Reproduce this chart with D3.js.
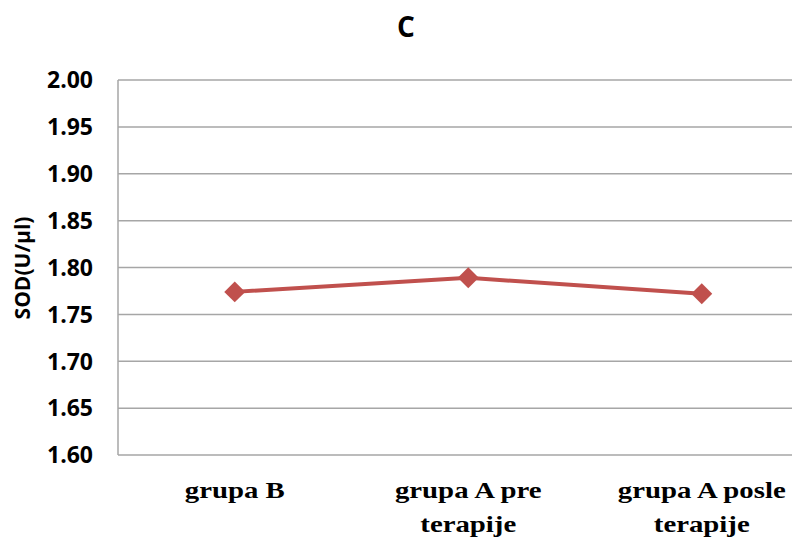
<!DOCTYPE html>
<html>
<head>
<meta charset="utf-8">
<script src="https://cdn.jsdelivr.net/npm/d3@7"></script>
<style>
  body { margin: 0; background: #fff; }
  svg { display: block; }
</style>
</head>
<body>
<div id="chart"></div>
<script>
// data
const categories = [["grupa B"], ["grupa A pre", "terapije"], ["grupa A posle", "terapije"]];
const sodValues = [1.774, 1.789, 1.772];
const yTicks = [1.60, 1.65, 1.70, 1.75, 1.80, 1.85, 1.90, 1.95, 2.00];

const width = 798;
const height = 542;
const margin = {top: 80, right: 6, bottom: 87, left: 118};
const gridRight = 792;

const svg = d3.select("#chart").append("svg")
    .attr("width", width)
    .attr("height", height);

const x = d3.scaleBand()
    .domain(categories.map((d, i) => i))
    .range([margin.left, margin.left + 3 * 233.5]);

const y = d3.scaleLinear()
    .domain([1.60, 2.00])
    .range([height - margin.bottom, margin.top]);

// gridlines
svg.append("g")
    .selectAll("line")
    .data(yTicks)
    .join("line")
    .attr("x1", margin.left)
    .attr("x2", gridRight)
    .attr("y1", d => y(d))
    .attr("y2", d => y(d))
    .attr("stroke", "#a6a6a6")
    .attr("stroke-width", 1.5);

// left axis line
svg.append("line")
    .attr("x1", margin.left).attr("x2", margin.left)
    .attr("y1", y(2.00)).attr("y2", y(1.60))
    .attr("stroke", "#a6a6a6")
    .attr("stroke-width", 1.5);

// y tick labels
svg.append("g")
    .selectAll("text")
    .data(yTicks)
    .join("text")
    .attr("x", 93)
    .attr("y", d => y(d))
    .attr("dy", "0.36em")
    .attr("text-anchor", "end")
    .style("font-family", "'Open Sans', sans-serif")
    .style("font-weight", 700)
    .style("font-size", "23px")
    .attr("fill", "#000")
    .text(d => d.toFixed(2));

// x labels (serif, a bit stretched like the original)
svg.append("g")
    .selectAll("g")
    .data(categories)
    .join("g")
    .attr("transform", (d, i) => `translate(${x(i) + x.bandwidth() / 2},498) scale(1.2,1)`)
    .append("text")
    .attr("text-anchor", "middle")
    .style("font-family", "'Liberation Serif', 'Times New Roman', serif")
    .style("font-weight", 700)
    .style("font-size", "24px")
    .attr("fill", "#000")
    .each(function (d) {
        const t = d3.select(this);
        d.forEach((line, j) => {
            t.append("tspan")
                .attr("x", 0)
                .attr("dy", j === 0 ? 0 : 34)
                .text(line);
        });
    });

// y axis title
svg.append("text")
    .attr("transform", `translate(30,268)rotate(-90)`)
    .attr("text-anchor", "middle")
    .style("font-family", "'Open Sans', sans-serif")
    .style("font-weight", 700)
    .style("font-size", "21px")
    .text("SOD(U/µl)");

// title
svg.append("text")
    .attr("x", 406)
    .attr("y", 37)
    .attr("text-anchor", "middle")
    .style("font-family", "'Open Sans', sans-serif")
    .style("font-weight", 700)
    .style("font-size", "28px")
    .text("C");

// line
const line = d3.line()
    .x((d, i) => x(i) + x.bandwidth() / 2)
    .y(d => y(d));

svg.append("path")
    .datum(sodValues)
    .attr("d", line)
    .attr("fill", "none")
    .attr("stroke", "#c0504d")
    .attr("stroke-width", 4);

// markers
svg.append("g")
    .selectAll("path")
    .data(sodValues)
    .join("path")
    .attr("transform", (d, i) => `translate(${x(i) + x.bandwidth() / 2},${y(d)})`)
    .attr("d", d3.symbol().type(d3.symbolDiamond2).size(280))
    .attr("fill", "#c0504d");
</script>
</body>
</html>
